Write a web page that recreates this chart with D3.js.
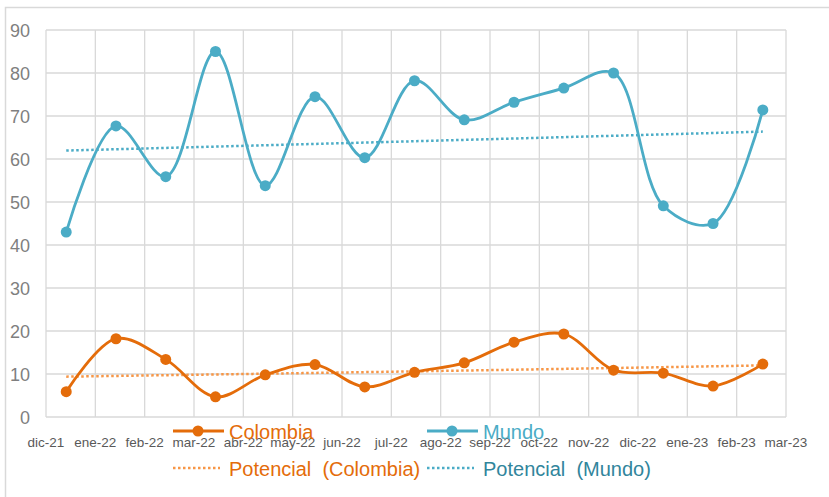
<!DOCTYPE html>
<html>
<head>
<meta charset="utf-8">
<script src="https://cdn.jsdelivr.net/npm/d3@7"></script>
<style>
  body { margin: 0; background: #fff; }
  svg { display: block; font-family: "Liberation Sans", Arial, sans-serif; }
</style>
</head>
<body>
<div id="chart"></div>
<script>
// datos
const months = ["dic-21","ene-22","feb-22","mar-22","abr-22","may-22","jun-22","jul-22",
  "ago-22","sep-22","oct-22","nov-22","dic-22","ene-23","feb-23","mar-23"];
const colombia = [5.9, 18.2, 13.4, 4.7, 9.8, 12.2, 7.0, 10.4, 12.6, 17.4, 19.3, 10.9, 10.2, 7.2, 12.3];
const mundo = [43.0, 67.7, 55.9, 85.0, 53.8, 74.5, 60.3, 78.2, 69.1, 73.2, 76.5, 80.0, 49.1, 45.0, 71.4];
const yTicks = [0, 10, 20, 30, 40, 50, 60, 70, 80, 90];
// fecha aproximada de cada punto (serial de Excel, ~13-dic-2021 en adelante)
const firstSerial = 44543, daysPerPoint = 30.9;

const width = 829, height = 497;
const plotL = 46, plotR = 786, plotT = 30, plotB = 417;

const svg = d3.select("#chart").append("svg")
  .attr("width", width)
  .attr("height", height);

// borde exterior
svg.append("rect")
  .attr("x", 5.5).attr("y", 7.5)
  .attr("width", 840).attr("height", 520)
  .attr("fill", "none")
  .attr("stroke", "#d9d9d9")
  .attr("stroke-width", 1.5);

// escala de meses (líneas de cuadrícula) y de puntos
const x = d3.scaleLinear().domain([0, months.length - 1]).range([plotL, plotR]);
const xp = d3.scaleLinear().domain([0, colombia.length - 1]).range([x(0.41), x(14.53)]);
const y = d3.scaleLinear().domain([0, 90]).range([plotB, plotT]);

// cuadrícula
svg.append("g").selectAll("line")
  .data(d3.range(months.length))
  .enter().append("line")
  .attr("x1", d => x(d)).attr("x2", d => x(d))
  .attr("y1", plotT).attr("y2", plotB)
  .attr("stroke", "#d9d9d9").attr("stroke-width", 1.3);

svg.append("g").selectAll("line")
  .data(yTicks)
  .enter().append("line")
  .attr("x1", plotL).attr("x2", plotR)
  .attr("y1", d => y(d)).attr("y2", d => y(d))
  .attr("stroke", "#d9d9d9").attr("stroke-width", 1.3);

// etiquetas de ejes
svg.append("g").selectAll("text")
  .data(yTicks)
  .enter().append("text")
  .attr("x", 30)
  .attr("y", d => y(d) + 1)
  .attr("text-anchor", "end")
  .attr("dominant-baseline", "central")
  .attr("font-size", "18px")
  .attr("fill", "#7f7f7f")
  .text(d => d);

svg.append("g").selectAll("text")
  .data(months)
  .enter().append("text")
  .attr("x", (d, i) => x(i))
  .attr("y", 442)
  .attr("text-anchor", "middle")
  .attr("dominant-baseline", "central")
  .attr("font-size", "13.5px")
  .attr("fill", "#595959")
  .text(d => d);

// línea de tendencia potencial: ln y = ln a + b ln x, con x = fecha serial
function powerFit(vals) {
  const xs = vals.map((v, i) => firstSerial + daysPerPoint * i);
  const lx = xs.map(Math.log);
  const ly = vals.map(v => Math.log(v));
  const mx = d3.mean(lx), my = d3.mean(ly);
  let num = 0, den = 0;
  lx.forEach((v, i) => { num += (v - mx) * (ly[i] - my); den += (v - mx) * (v - mx); });
  const b = num / den;
  const a = Math.exp(my - b * mx);
  return d3.range(0, vals.length - 1 + 0.001, 0.25)
    .map(t => [t, a * Math.pow(firstSerial + daysPerPoint * t, b)]);
}

const trend = d3.line().x(d => xp(d[0])).y(d => y(d[1]));
const curve = d3.line().x((d, i) => xp(i)).y(d => y(d)).curve(d3.curveCatmullRom.alpha(0.5));

const series = [
  { name: "Colombia", vals: colombia, color: "#e46c0a", trendColor: "#f79646", text2: "#e46c0a" },
  { name: "Mundo", vals: mundo, color: "#4bacc6", trendColor: "#4bacc6", text2: "#31859c" }
];

series.forEach(s => {
  svg.append("path")
    .datum(powerFit(s.vals))
    .attr("d", trend)
    .attr("fill", "none")
    .attr("stroke", s.trendColor)
    .attr("stroke-width", 2.5)
    .attr("stroke-dasharray", "2.5,2.5");
});

series.forEach(s => {
  svg.append("path")
    .datum(s.vals)
    .attr("d", curve)
    .attr("fill", "none")
    .attr("stroke", s.color)
    .attr("stroke-width", 2.8);

  svg.append("g").selectAll("circle")
    .data(s.vals)
    .enter().append("circle")
    .attr("cx", (d, i) => xp(i))
    .attr("cy", d => y(d))
    .attr("r", 5.5)
    .attr("fill", s.color);
});

// leyenda
const legX = [173, 427];
series.forEach((s, k) => {
  const lg = svg.append("g").attr("transform", `translate(${legX[k]},0)`);
  lg.append("line")
    .attr("x1", 0).attr("x2", 51).attr("y1", 431).attr("y2", 431)
    .attr("stroke", s.color).attr("stroke-width", 2.8);
  lg.append("circle").attr("cx", 25).attr("cy", 431).attr("r", 5.5).attr("fill", s.color);
  lg.append("text")
    .attr("x", 56).attr("y", 432)
    .attr("dominant-baseline", "central")
    .attr("font-size", "20px")
    .attr("fill", s.color)
    .text(s.name);

  lg.append("line")
    .attr("x1", 0).attr("x2", 47).attr("y1", 468).attr("y2", 468)
    .attr("stroke", s.trendColor).attr("stroke-width", 2.5)
    .attr("stroke-dasharray", "2.5,2.5");
  lg.append("text")
    .attr("x", 56).attr("y", 469)
    .attr("dominant-baseline", "central")
    .attr("font-size", "20px")
    .attr("fill", s.text2)
    .attr("xml:space", "preserve")
    .style("white-space", "pre")
    .text("Potencial  (" + s.name + ")");
});
</script>
</body>
</html>
